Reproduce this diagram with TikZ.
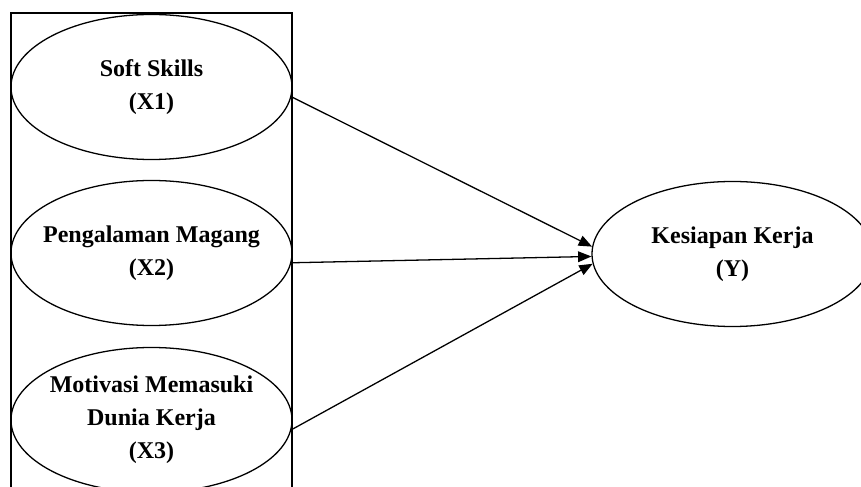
\documentclass[tikz,border=0pt]{standalone}
\usepackage{fontspec}
\setmainfont{Liberation Serif}
\usetikzlibrary{calc,shapes,positioning}
\usetikzlibrary{arrows.meta}
\tikzset{>={Triangle[width=3.2mm,length=4mm]}}

\begin{document}
\begin{tikzpicture}[x=0.03cm,y=-0.03cm]
        \tikzstyle{vnode} = [draw=black, line width=1.1pt, ellipse, minimum width=8.43cm, minimum height=4.35cm, inner xsep = -1.5cm, inner ysep = 0pt, align=center, font=\bfseries\fontsize{20.5}{28}\selectfont]
        \tikzstyle{path} = [->, line width=1.1pt]

        \clip (0,0) rectangle (861,487);
        \draw[line width=1.1pt] (11,13) rectangle (292,520);

        \node[vnode] (x1) at (151.5,87) {Soft Skills\\(X1)};
        \node[vnode] (x2) at (151.5,253) {Pengalaman Magang\\(X2)};
        \node[vnode] (x3) at (151.5,420) {Motivasi Memasuki\\Dunia Kerja\\(X3)};
        \node[vnode] (y) at (732.5,254) {Kesiapan Kerja\\(Y)};

        \draw[path] (x1.-4) -- (y.177);
        \draw[path] (x2.-4) -- (y.181);
        \draw[path] (x3.-4) -- (y.184);

      \end{tikzpicture}
\end{document}
